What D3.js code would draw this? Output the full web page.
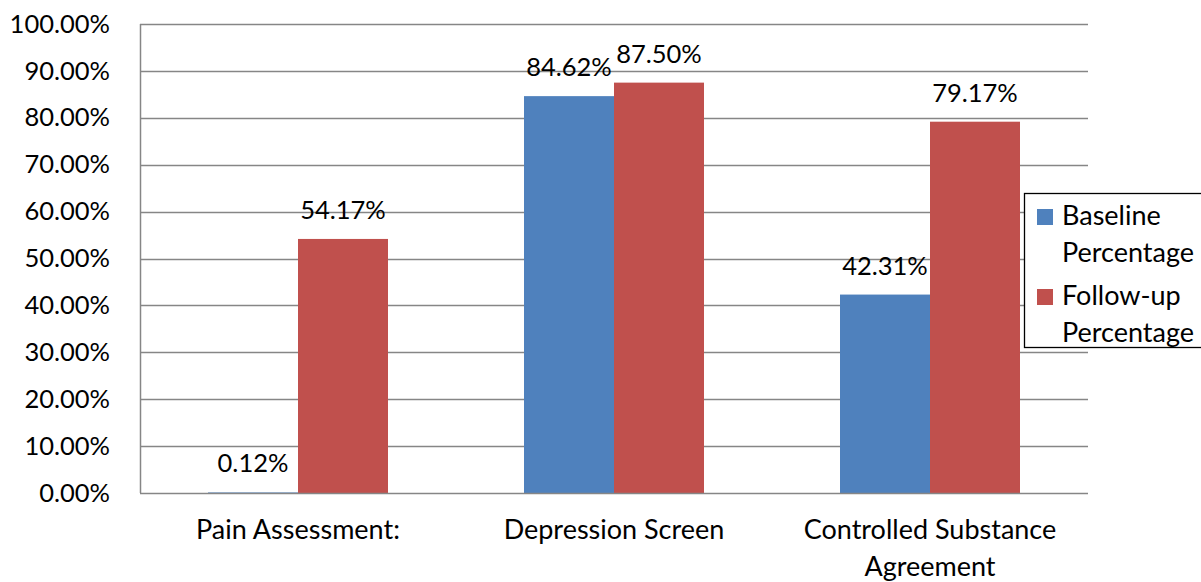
<!DOCTYPE html>
<html>
<head>
<meta charset="utf-8">
<script src="https://cdn.jsdelivr.net/npm/d3@7"></script>
<style>
  html, body { margin: 0; padding: 0; background: #fff; }
  svg { display: block; }
  text { font-family: Lato, "Open Sans", sans-serif; fill: #000; }
</style>
</head>
<body>
<svg id="chart" width="1201" height="582"></svg>
<script>
// Measures and their percentages at baseline and follow-up
const categories = [["Pain Assessment:"], ["Depression Screen"], ["Controlled Substance", "Agreement"]];
const seriesNames = [["Baseline", "Percentage"], ["Follow-up", "Percentage"]];
const baseline = [0.12, 84.62, 42.31];
const followUp = [54.17, 87.50, 79.17];
const yTicks = [0, 10, 20, 30, 40, 50, 60, 70, 80, 90, 100];
const colors = ["#4f81bd", "#c0504d"];

const numSize = 25.5, wordSize = 27;

const svg = d3.select("#chart");
const plotLeft = 140, plotRight = 1088, plotTop = 24, plotBottom = 493;

const x = d3.scaleBand().domain(d3.range(categories.length)).range([plotLeft, plotRight]);
const inner = d3.scaleBand().domain([0, 1]).range([0, 180]);
const barOffset = (x.bandwidth() - 180) / 2;
const y = d3.scaleLinear().domain([0, 100]).range([plotBottom, plotTop]);

// Horizontal gridlines
svg.append("g").selectAll("line").data(yTicks.filter(d => d > 0)).join("line")
  .attr("x1", plotLeft).attr("x2", plotRight)
  .attr("y1", d => Math.round(y(d)) + 0.5).attr("y2", d => Math.round(y(d)) + 0.5)
  .attr("stroke", "#868686").attr("stroke-width", 1.5);

// Y axis labels
const yAxis = d3.axisLeft(y).tickValues(yTicks).tickSize(0).tickPadding(30)
  .tickFormat(d => d.toFixed(2) + "%");
const ya = svg.append("g").attr("transform", `translate(${plotLeft},0)`).call(yAxis);
ya.select(".domain").remove();
ya.selectAll("text").attr("font-size", numSize).attr("font-family", "Lato, sans-serif").attr("fill", "#000");

// Bars and value labels
const series = [baseline, followUp];
series.forEach((vals, s) => {
  svg.append("g").selectAll("rect").data(vals).join("rect")
    .attr("x", (d, i) => x(i) + barOffset + inner(s))
    .attr("width", inner.bandwidth())
    .attr("y", d => y(d))
    .attr("height", d => y(0) - y(d))
    .attr("fill", colors[s]);
  svg.append("g").selectAll("text").data(vals).join("text")
    .attr("x", (d, i) => x(i) + barOffset + inner(s) + inner.bandwidth() / 2)
    .attr("y", d => y(d) - 20)
    .attr("text-anchor", "middle")
    .attr("font-size", numSize)
    .text(d => d.toFixed(2) + "%");
});

// Axis lines
svg.append("line").attr("x1", plotLeft).attr("x2", plotRight).attr("y1", plotBottom + 0.5).attr("y2", plotBottom + 0.5)
  .attr("stroke", "#868686").attr("stroke-width", 1.5);
svg.append("line").attr("x1", plotLeft + 0.5).attr("x2", plotLeft + 0.5).attr("y1", plotTop).attr("y2", plotBottom)
  .attr("stroke", "#868686").attr("stroke-width", 1.5);

// Category labels
const cat = svg.append("g").selectAll("text").data(categories).join("text")
  .attr("x", (d, i) => x(i) + x.bandwidth() / 2)
  .attr("y", 539)
  .attr("text-anchor", "middle")
  .attr("font-size", wordSize);
cat.selectAll("tspan").data(d => d).join("tspan")
  .attr("x", function () { return d3.select(this.parentNode).attr("x"); })
  .attr("dy", (d, i) => i === 0 ? 0 : 37)
  .text(d => d);

// Legend
const lg = svg.append("g");
lg.append("rect").attr("x", 1024.5).attr("y", 193.5).attr("width", 180).attr("height", 154)
  .attr("fill", "#fff").attr("stroke", "#000").attr("stroke-width", 1.3);
seriesNames.forEach((lines, s) => {
  const y0 = 209 + s * 80;
  lg.append("rect").attr("x", 1037).attr("y", y0).attr("width", 16).attr("height", 16).attr("fill", colors[s]);
  const t = lg.append("text").attr("x", 1062).attr("y", y0 + 16).attr("font-size", wordSize);
  lines.forEach((l, j) => t.append("tspan").attr("x", 1062).attr("dy", j === 0 ? 0 : 37).text(l));
});
</script>
</body>
</html>
